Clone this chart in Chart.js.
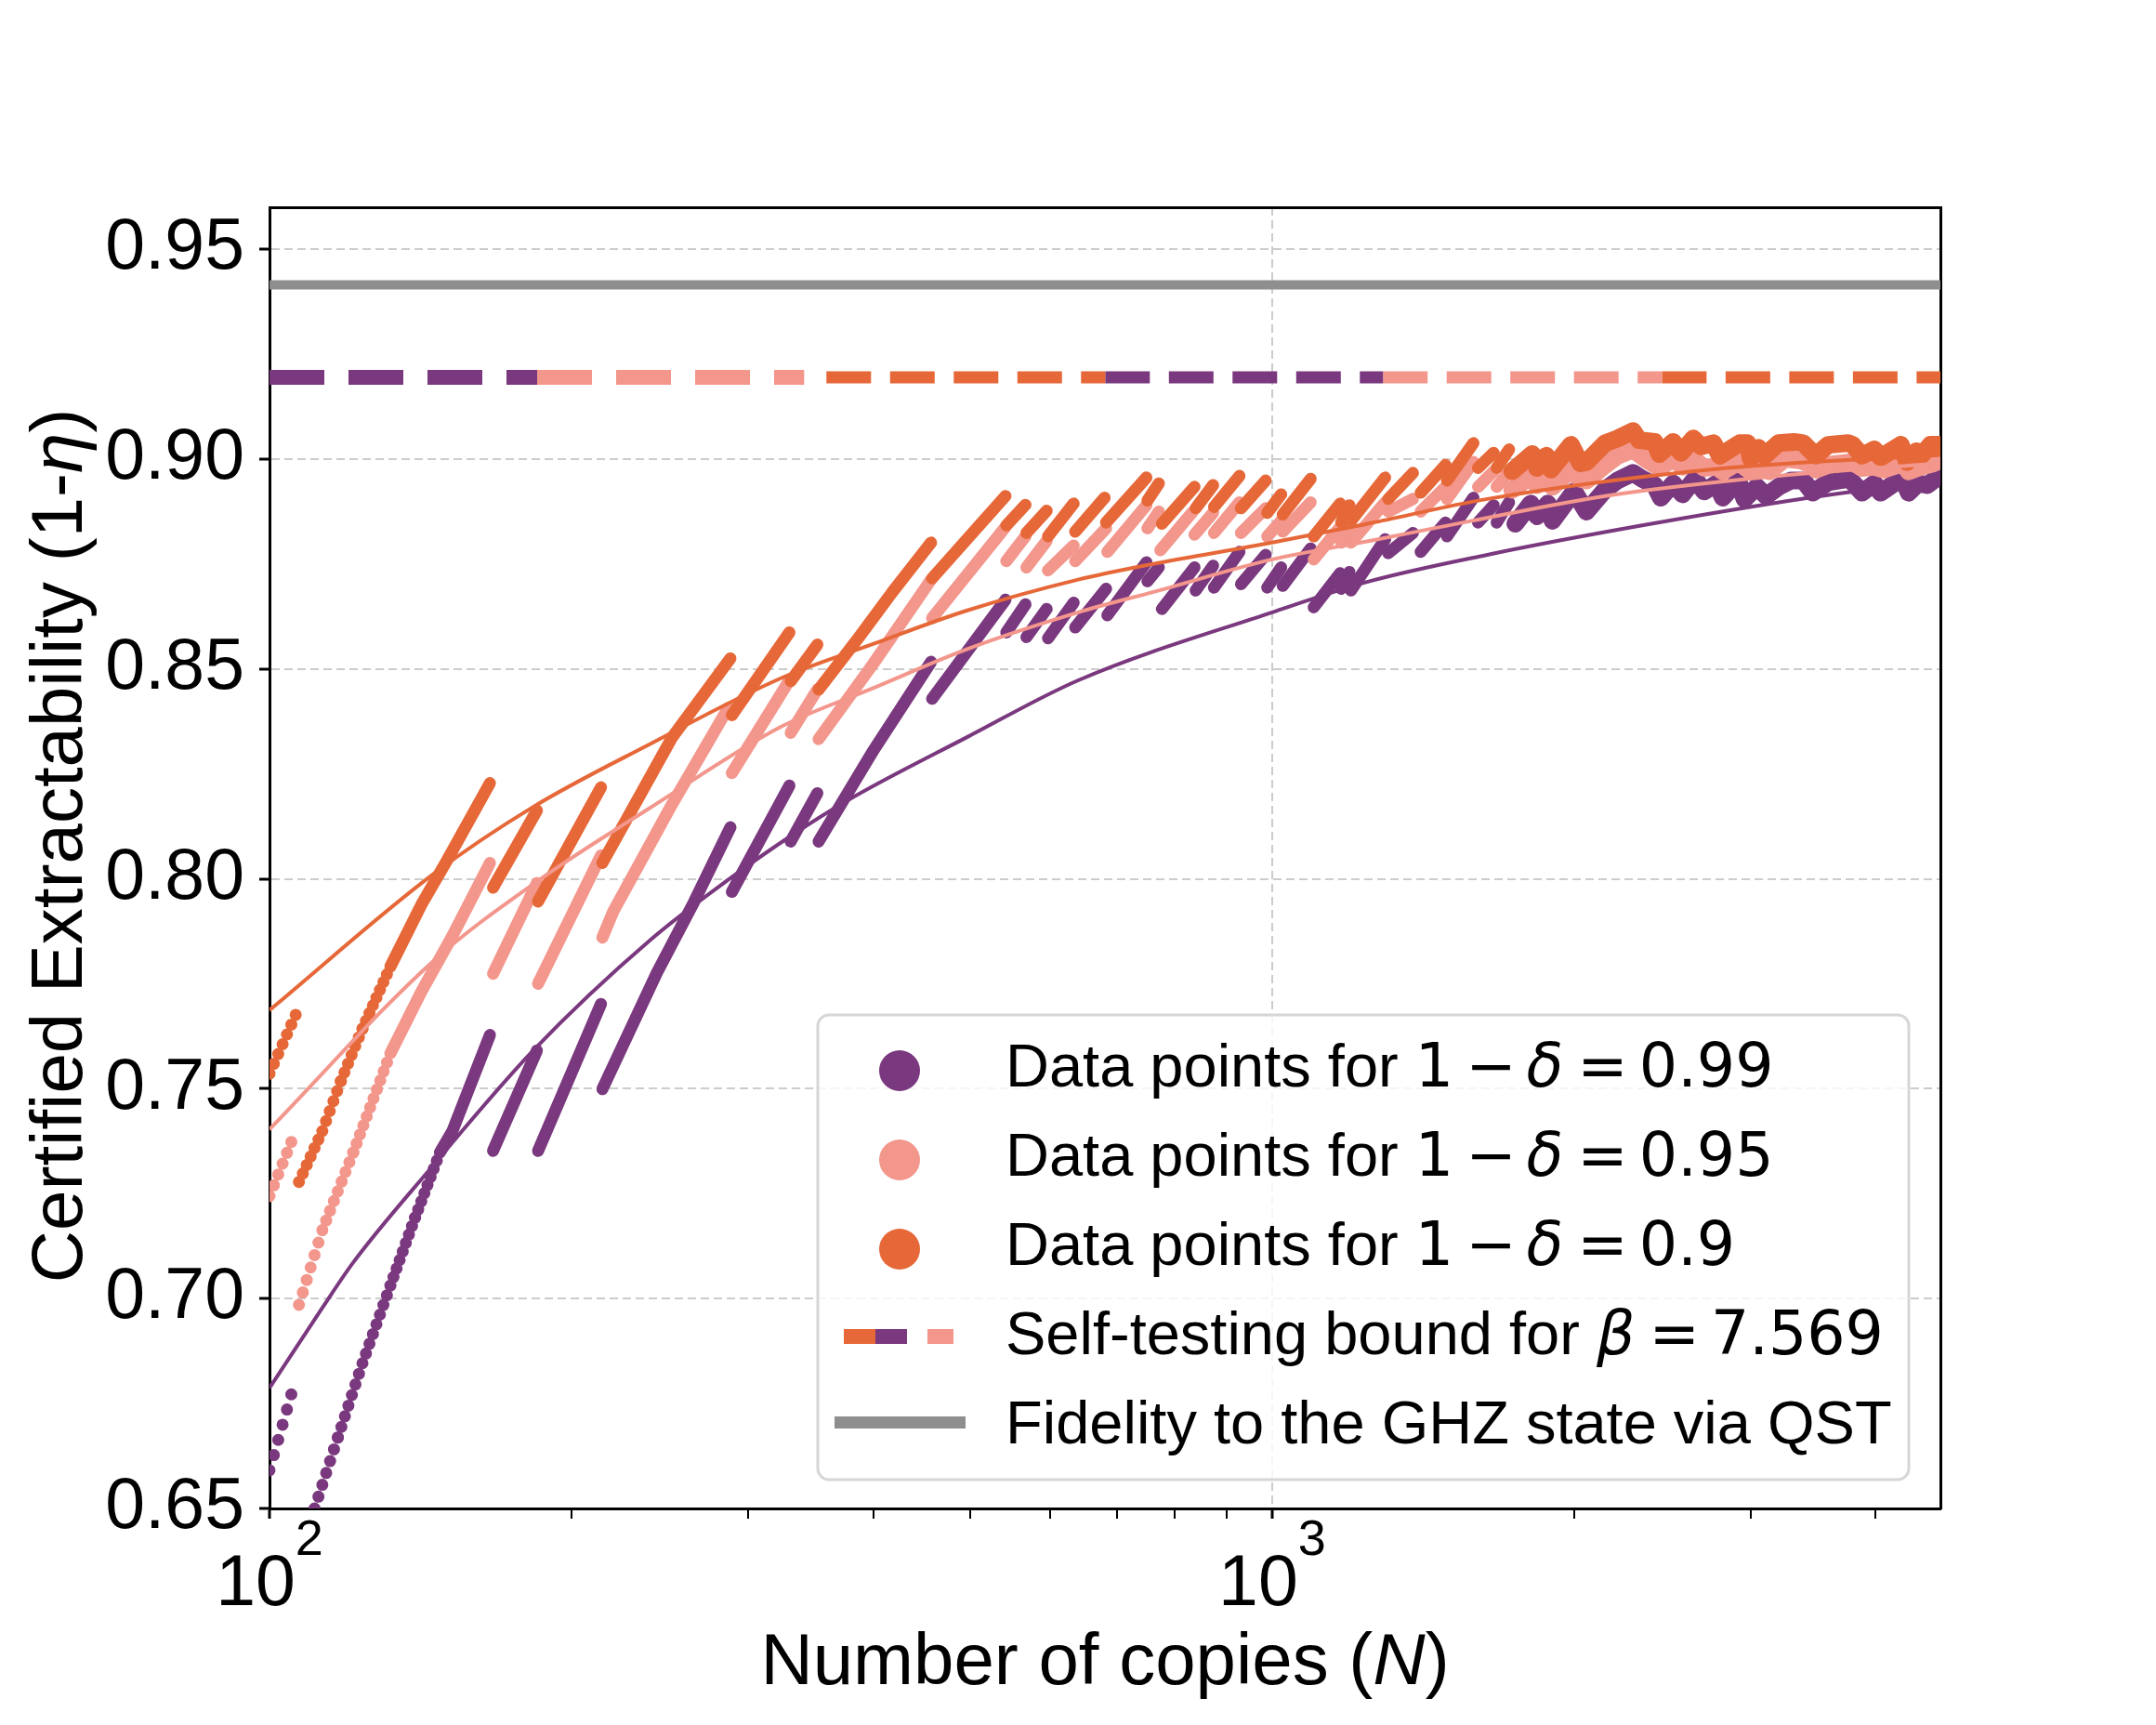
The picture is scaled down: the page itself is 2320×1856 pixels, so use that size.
<!DOCTYPE html>
<html>
<head>
<meta charset="utf-8">
<script src="https://cdn.jsdelivr.net/npm/chart.js@4.4.1/dist/chart.umd.min.js"></script>
<style>
html,body{margin:0;padding:0;background:#fff}
canvas{display:block}
</style>
</head>
<body>
<canvas id="certChart" width="2320" height="1856"></canvas>
<script>
/* Certified extractability vs number of copies (log x) */

// ---- data (N, 1-eta); null = break between sawtooth runs ----
const purplePts = [
[100,0.6591],[106.2,0.6808],null,
[110.9,0.6500],[117,0.6669],[123.8,0.6846],[132,0.7031],[139.7,0.7193],[147.9,0.7348],[152.2,0.7399],[165.9,0.7628],null,
[167.1,0.7352],[184.8,0.7591],null,
[185.3,0.7352],[214.1,0.7702],null,
[214.8,0.7499],[243.4,0.7776],[265.1,0.7945],[288.2,0.8123],null,
[289.2,0.7969],[330,0.8222],null,
[331,0.8089],[351.9,0.8204],null,
[352.9,0.8089],[400.5,0.8307],[456.9,0.8517],null,
[458,0.8429],[542,0.8665],null,
[543.1,0.8587],[567.5,0.8654],null,
[568.8,0.8576],[595.8,0.8643],null,
[597.7,0.8573],[633.9,0.8658],null,
[636.2,0.8599],[683,0.8691],null,
[685,0.8628],[749.2,0.8754],null,
[751,0.8709],[770.9,0.8742],null,
[776.4,0.8643],[836.7,0.8742],null,
[839,0.8687],[873.2,0.8746],null,
[875,0.8694],[927.7,0.8779],null,
[931,0.8702],[985.4,0.8772],null,
[988.9,0.8694],[1021,0.8742],null,
[1024.7,0.8698],[1092.5,0.8787],null,
[1100.3,0.8647],[1169,0.8728],null,
[1172,0.8691],[1194.2,0.8731],null,
[1198.5,0.8687],[1296.3,0.8809],null,
[1305.5,0.8776],[1381.8,0.8824],null,
[1406.6,0.8779],[1489,0.8849],null,
[1494.3,0.8816],[1587.6,0.8908],null,
[1604.6,0.8849],[1663,0.8890],null,
[1674.8,0.8849],[1723,0.8897],null,
[1747.8,0.8846],[1811.1,0.8894],[1837,0.8864],[1883.3,0.8894],[1903.5,0.8853],[2000.7,0.8923],[2058.5,0.8875],
[2148.3,0.8927],[2210.4,0.8949],[2290.4,0.8967],[2339.5,0.8953],[2407.1,0.8938],[2441.5,0.8908],[2511.9,0.8942],
[2566.2,0.8916],[2640.3,0.8953],[2697.2,0.8923],[2775.1,0.8942],[2814.9,0.8908],[2916.9,0.8949],[2958.7,0.8905],
[3044.2,0.8934],[3109.8,0.8912],[3199.6,0.8934],[3292,0.8949],[3387,0.8949],[3460.1,0.8920],[3585.4,0.8945],
[3766.5,0.8953],[3875.3,0.8920],[3987.2,0.8942],[4044.3,0.8920],[4253.1,0.8956],[4314,0.8920],[4407.1,0.8942],
[4502.2,0.8938],[4632.1,0.8960]
];

const pinkPts = [
[100,0.7244],[106.2,0.7399],null,
[107,0.6985],[112.9,0.7163],[121.2,0.7348],[132,0.7584],[141.7,0.7731],[152.2,0.7864],[165.9,0.8038],null,
[167.1,0.7774],[184.8,0.7990],null,
[185.3,0.7750],[214.1,0.8056],null,
[214.8,0.7860],[220.3,0.7923],[252.1,0.8178],[286.7,0.8407],null,
[289.2,0.8252],[330,0.8473],null,
[331,0.8348],[351.9,0.8451],null,
[352.9,0.8333],[400.5,0.8514],[456.9,0.8713],null,
[458,0.8621],[542,0.8838],null,
[543.1,0.8757],[567.5,0.8816],null,
[568.8,0.8742],[595.8,0.8805],null,
[597.7,0.8735],[633.9,0.8794],null,
[636.2,0.8757],[683,0.8835],null,
[685,0.8779],[749.2,0.8890],null,
[751,0.8835],[770.9,0.8875],null,
[773.6,0.8783],[833.7,0.8875],null,
[836.7,0.8820],[873.2,0.8872],null,
[875,0.8824],[927.7,0.8897],null,
[931,0.8824],[985.4,0.8883],null,
[988.9,0.8816],[1021,0.8853],null,
[1024.7,0.8827],[1092.5,0.8897],null,
[1100.3,0.8761],[1169,0.8838],null,
[1172,0.8801],[1194.2,0.8831],null,
[1198.5,0.8801],[1296.3,0.8897],null,
[1305.5,0.8875],[1381.8,0.8905],null,
[1406.6,0.8875],[1489,0.8934],null,
[1494.3,0.8905],[1587.6,0.8993],null,
[1604.6,0.8934],[1663,0.8971],null,
[1674.8,0.8934],[1723,0.8971],null,
[1735.4,0.8927],[1811.1,0.8960],[1837,0.8938],[1876.6,0.8953],[1903.5,0.8934],[1986.5,0.8975],[2029.4,0.8953],
[2058.5,0.8949],[2148.3,0.8986],[2210.4,0.9008],[2290.4,0.9023],[2356.2,0.9001],[2432.9,0.8979],[2511.9,0.9001],
[2566.2,0.8982],[2640.3,0.8997],[2697.2,0.8979],[2775.1,0.8982],[2814.9,0.8971],[2916.9,0.8993],[3001.2,0.8971],
[3065.9,0.8982],[3132,0.8971],[3245.5,0.9001],[3363,0.8997],[3460.1,0.8986],[3484.8,0.8975],[3585.4,0.8986],
[3793.4,0.8993],[3875.3,0.8979],[3987.2,0.8982],[4073.2,0.8975],[4253.1,0.8990],[4314,0.8971],[4438.6,0.8982],
[4566.7,0.8990],[4632.1,0.8997]
];

const orangePts = [
[100,0.7536],[106.2,0.7676],null,
[107,0.7278],[112.9,0.7399],[117.8,0.7518],[123.8,0.7643],[132,0.7791],[141.7,0.7938],[150.1,0.8041],[165.9,0.8228],null,
[167.1,0.7979],[184.8,0.8163],null,
[185.3,0.7946],[214.1,0.8218],null,
[214.8,0.8038],[252.1,0.8337],[288.2,0.8525],null,
[289.2,0.8390],[330,0.8587],null,
[331,0.8471],[351.9,0.8558],null,
[352.9,0.8451],[386.5,0.8573],[418,0.8683],[456.9,0.8801],null,
[458,0.8716],[542,0.8912],null,
[543.1,0.8842],[567.5,0.8891],null,
[568.8,0.8824],[595.8,0.8877],null,
[597.7,0.8816],[633.9,0.8894],null,
[636.2,0.8827],[680.6,0.8908],null,
[683,0.8849],[749.2,0.8956],null,
[751,0.8901],[770.9,0.8942],null,
[776.4,0.8846],[836.7,0.8934],null,
[839,0.8883],[873.2,0.8938],null,
[875,0.8886],[927.7,0.8960],null,
[931,0.8883],[985.4,0.8949],null,
[988.9,0.8872],[1021,0.8916],null,
[1024.7,0.8868],[1092.5,0.8953],null,
[1100.3,0.8816],[1169,0.8894],null,
[1172,0.8849],[1194.2,0.8890],null,
[1198.5,0.8853],[1296.3,0.8956],null,
[1305.5,0.8905],[1381.8,0.8967],null,
[1406.6,0.8920],[1489,0.8986],null,
[1494.3,0.8949],[1587.6,0.9038],null,
[1604.6,0.8979],[1663,0.9015],null,
[1674.8,0.8979],[1723,0.9023],null,
[1735.4,0.8971],[1817.5,0.9012],[1837,0.8979],[1876.6,0.9008],[1896.8,0.8975],[1986.5,0.9034],[2029.4,0.8990],
[2058.5,0.8993],[2148.3,0.9038],[2210.4,0.9049],[2290.4,0.9067],[2322.9,0.9045],[2407.1,0.9041],[2432.9,0.9012],
[2511.9,0.9041],[2557,0.9015],[2630.8,0.9049],[2678.1,0.9030],[2755.4,0.9038],[2794.9,0.9008],[2927.3,0.9038],
[2979.8,0.9038],[3001.2,0.9001],[3055,0.9027],[3098.8,0.9008],[3199.6,0.9038],[3315.5,0.9041],[3387,0.9038],
[3447.8,0.9019],[3484.8,0.9008],[3585.4,0.9034],[3753.2,0.9038],[3793.4,0.9034],[3875.3,0.9008],[3987.2,0.9023],
[4044.3,0.9004],[4236.8,0.9034],[4298.6,0.8993],[4391.4,0.9019],[4438.6,0.9008],[4534.4,0.9034],[4632.1,0.9034]
];

// fitted curves
const purpleFit = [[100,0.6787],[112.9,0.6978],[121.2,0.7086],[144.3,0.7306],[183.1,0.7590],[240,0.7855],[288.8,0.8003],
  [330.5,0.8101],[378.5,0.8189],[495.8,0.8337],[640.6,0.8473],[1000,0.8635],[1250.8,0.8709],[1639,0.8772],
  [2339.5,0.8842],[3435,0.8908],[4640,0.8949]];
const pinkFit = [[100,0.7403],[145.8,0.7805],[185.7,0.7997],[240,0.8170],[323.6,0.8362],[400.5,0.8455],[495.8,0.8547],
  [640.6,0.8635],[760,0.8683],[1000,0.8761],[1250.8,0.8805],[1582,0.8853],[2148,0.8912],[3200,0.8960],[4640,0.8990]];
const orangeFit = [[100,0.7687],[145.8,0.8012],[183.1,0.8171],[238.2,0.8318],[323.6,0.8478],[400.5,0.8560],[495.8,0.8639],
  [640.6,0.8713],[760,0.8750],[1000,0.8801],[1250.8,0.8847],[1639,0.8905],[2736,0.8975],[4640,0.9010]];

// reference levels
const boundValue = 0.9195;     // self-testing bound
const qstValue = 0.9415;       // fidelity via QST
const boundRuns = [[100,184.9],[184.9,341.4],[359.3,681.6],[681.6,1290],[1290,2448],[2448,4640]];

// ticks
const xTickValues = [100,200,300,400,500,600,700,800,900,1000,2000,3000,4000];
const xLabelValues = [100,1000];
const xLabelExps = ['2','3'];
const yTickValues = [0.65,0.70,0.75,0.80,0.85,0.90,0.95];

// legend
const deltaLevels = ['0.99','0.95','0.9'];
const betaValue = '7.569';

// ---- styles ----
const PURPLE = '#7a387e', PINK = '#f3968c', ORANGE = '#e66838', GREY = '#8e8e8e';
const boundColors = [PURPLE, PINK, ORANGE, PURPLE, PINK, ORANGE];
const SANS = '"Liberation Sans", Arial, sans-serif';
const MATH = '"DejaVu Sans", sans-serif';

function toData(pts) {
  let lastX = 100;
  return pts.map(p => {
    if (p) { lastX = p[0]; return {x: p[0], y: p[1]}; }
    return {x: lastX, y: null};
  });
}

// spacing of one marker per integer N along a segment, in pixels
function markerGap(ctx) {
  const d = ctx.chart.data.datasets[ctx.datasetIndex].data;
  const a = d[ctx.p0DataIndex], b = d[ctx.p1DataIndex];
  if (!a || !b || a.y === null || b.y === null) return 0;
  const steps = Math.round(b.x - a.x);
  if (steps < 1) return 0;
  return Math.hypot(ctx.p1.x - ctx.p0.x, ctx.p1.y - ctx.p0.y) / steps;
}

function dataSet(pts, color, order) {
  return {
    data: toData(pts), borderColor: color, borderWidth: 13,
    borderCapStyle: 'round', borderJoinStyle: 'round',
    pointRadius: 0, spanGaps: false, order: order,
    segment: {
      borderDash: ctx => { const g = markerGap(ctx); return g > 8 ? [0, g] : undefined; },
      borderWidth: ctx => {
        const g = markerGap(ctx);
        if (g > 8) return 13;
        const d = ctx.chart.data.datasets[ctx.datasetIndex].data;
        return d[ctx.p0DataIndex].x > 1730 ? 19 : 13;
      }
    }
  };
}

function fitSet(pts, color) {
  return {
    data: pts.map(p => ({x: p[0], y: p[1]})), borderColor: color, borderWidth: 4,
    pointRadius: 0, cubicInterpolationMode: 'monotone', order: 2
  };
}

const datasets = [
  dataSet(purplePts, PURPLE, 5),
  dataSet(pinkPts, PINK, 4),
  dataSet(orangePts, ORANGE, 3),
  fitSet(purpleFit, PURPLE),
  fitSet(pinkFit, PINK),
  fitSet(orangeFit, ORANGE)
];

boundRuns.forEach((r, i) => {
  datasets.push({
    data: [{x: r[0], y: boundValue}, {x: r[1], y: boundValue}],
    borderColor: boundColors[i], borderWidth: i < 2 ? 16 : 13,
    borderDash: i < 2 ? [59, 26] : [48, 20.5], borderCapStyle: 'butt',
    pointRadius: 0, order: 1
  });
});

datasets.push({
  data: [{x: 100, y: qstValue}, {x: 4640, y: qstValue}],
  borderColor: GREY, borderWidth: 10, pointRadius: 0, order: 0
});

// ---- text drawn over the chart: x tick labels, axis titles, legend ----
function runsWidth(c, runs) {
  let w = 0;
  runs.forEach(r => { c.font = r[1]; w += c.measureText(r[0]).width + (r[2] || 0); });
  return w;
}
function drawRuns(c, runs, x, y) {
  let cx = x;
  runs.forEach(r => { c.font = r[1]; c.fillText(r[0], cx, y); cx += c.measureText(r[0]).width + (r[2] || 0); });
}

const overlayText = {
  id: 'overlayText',
  afterDraw(chart) {
    const c = chart.ctx, xs = chart.scales.x, area = chart.chartArea;
    c.save();
    c.fillStyle = '#000';
    c.textAlign = 'left';
    c.textBaseline = 'alphabetic';

    // 10^n labels
    xLabelValues.forEach((v, i) => {
      const px = xs.getPixelForValue(v);
      const runs = [['10', '77px ' + SANS], [xLabelExps[i], '54px ' + SANS]];
      const w = runsWidth(c, runs);
      c.font = runs[0][1];
      const wb = c.measureText('10').width;
      c.fillText('10', px - w / 2, area.bottom + 104);
      c.font = runs[1][1];
      c.fillText(xLabelExps[i], px - w / 2 + wb, area.bottom + 50);
    });

    // x title
    const xt = [['Number of copies (', '78px ' + SANS], ['N', 'italic 78px ' + SANS], [')', '78px ' + SANS]];
    drawRuns(c, xt, (area.left + area.right) / 2 - runsWidth(c, xt) / 2, 1812);

    // y title
    const yt = [['Certified Extractability (1-', '78px ' + SANS], ['\u03b7', 'italic 78px ' + SANS], [')', '78px ' + SANS]];
    c.save();
    c.translate(88, 910);
    c.rotate(-Math.PI / 2);
    drawRuns(c, yt, -runsWidth(c, yt) / 2, 0);
    c.restore();

    // legend box
    const bx = 880, by = 1092, bw = 1174, bh = 500, r = 12;
    c.beginPath();
    c.moveTo(bx + r, by);
    c.arcTo(bx + bw, by, bx + bw, by + bh, r);
    c.arcTo(bx + bw, by + bh, bx, by + bh, r);
    c.arcTo(bx, by + bh, bx, by, r);
    c.arcTo(bx, by, bx + bw, by, r);
    c.closePath();
    c.fillStyle = 'rgba(255,255,255,0.8)';
    c.fill();
    c.lineWidth = 3;
    c.strokeStyle = '#d6d6d6';
    c.stroke();

    const base = [1169, 1265, 1361, 1457, 1553];
    const dotColors = [PURPLE, PINK, ORANGE];
    const T = '65px ' + SANS, M = '65px ' + MATH, MI = 'oblique 65px ' + MATH;
    dotColors.forEach((col, i) => {
      c.fillStyle = col;
      c.beginPath();
      c.arc(968, base[i] - 17, 22, 0, Math.PI * 2);
      c.fill();
      c.fillStyle = '#000';
      drawRuns(c, [['Data points for ', T], ['1', M, 13], ['\u2212', M, 11], ['\u03b4', MI, 15], ['=', M, 12], [deltaLevels[i], M]], 1082, base[i]);
    });

    // bound handle
    const hy = base[3] - 19;
    c.fillStyle = ORANGE; c.fillRect(908, hy - 8, 34, 16);
    c.fillStyle = PURPLE; c.fillRect(942, hy - 8, 34, 16);
    c.fillStyle = PINK; c.fillRect(998, hy - 8, 28, 16);
    c.fillStyle = '#000';
    drawRuns(c, [['Self-testing bound for ', T], ['\u03b2', MI, 15], ['=', M, 12], [betaValue, M]], 1082, base[3]);

    // QST handle
    c.fillStyle = GREY; c.fillRect(898, base[4] - 29, 141, 13);
    c.fillStyle = '#000';
    drawRuns(c, [['Fidelity to the GHZ state via QST', T]], 1082, base[4]);

    c.restore();
  }
};

const frame = (pos) => ({
  type: 'linear', position: pos, display: true,
  ticks: {display: false},
  grid: {drawOnChartArea: false, drawTicks: false},
  border: {display: true, color: '#000', width: 3},
  afterFit: s => { if (pos === 'top') s.height = 0; else s.width = 0; }
});

new Chart(document.getElementById('certChart'), {
  type: 'line',
  data: {datasets: datasets},
  options: {
    responsive: false,
    animation: false,
    devicePixelRatio: 1,
    layout: {padding: {top: 223, right: 232, bottom: 0, left: 0}},
    plugins: {legend: {display: false}, tooltip: {enabled: false}},
    scales: {
      x: {
        type: 'logarithmic', min: 100, max: 4640,
        afterBuildTicks: s => { s.ticks = xTickValues.map(v => ({value: v})); },
        afterFit: s => { s.height = 233; },
        ticks: {display: false, autoSkip: false},
        grid: {
          color: c => (c.tick && c.tick.value === 1000) ? '#cccccc' : 'rgba(0,0,0,0)',
          lineWidth: 2, tickColor: '#000', tickLength: 11,
          tickWidth: c => (c.tick && xLabelValues.includes(c.tick.value)) ? 3 : 2
        },
        border: {display: true, color: '#000', width: 3, dash: [9, 5]}
      },
      y: {
        type: 'linear', min: 0.65, max: 0.96,
        afterBuildTicks: s => { s.ticks = yTickValues.map(v => ({value: v})); },
        afterFit: s => { s.width = 290; },
        ticks: {
          autoSkip: false, color: '#000', padding: 16,
          font: {family: 'Liberation Sans', size: 77},
          callback: v => Number(v).toFixed(2)
        },
        grid: {
          color: c => (c.tick && c.tick.value > 0.66) ? '#cccccc' : 'rgba(0,0,0,0)',
          lineWidth: 2, tickColor: '#000', tickLength: 11, tickWidth: 3
        },
        border: {display: true, color: '#000', width: 3, dash: [9, 5]}
      },
      x2: frame('top'),
      y2: frame('right')
    }
  },
  plugins: [overlayText]
});
</script>
</body>
</html>
